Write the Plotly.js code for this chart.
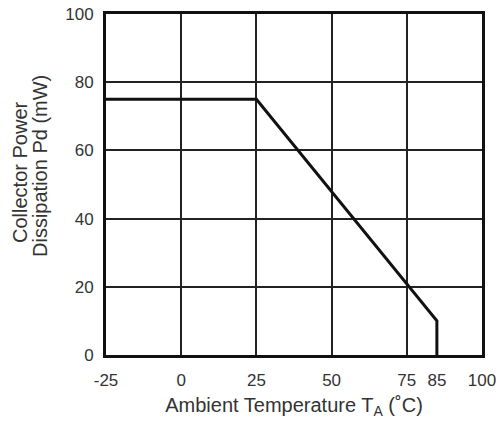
<!DOCTYPE html>
<html><head><meta charset="utf-8">
<script src="https://cdn.plot.ly/plotly-3.0.1.min.js"></script>
<style>html,body{margin:0;padding:0;background:#fff}#chart{width:500px;height:423px}</style>
</head><body><div id="chart"></div>
<script>
// Derating curve data
const tempC = [-25, 25, 85, 85];
const powerMW = [75, 75, 10, 0];
const xTickVals = [-25, 0, 25, 50, 75, 85, 100];
const xTickText = ['-25', '0', '25', '50', '75', '85', '100'];
const yTickVals = [0, 20, 40, 60, 80, 100];
const yTitleLines = ['Collector Power', 'Dissipation Pd (mW)'];

const fam = 'Liberation Sans, Arial, sans-serif';
const tickFont = {family: fam, size: 17, color: '#333'};
const titleFont = {family: fam, size: 20, color: '#333'};
const traces = [
  {x: tempC, y: powerMW, type: 'scatter', mode: 'lines', line: {color: '#111', width: 3}, xaxis: 'x', yaxis: 'y', hoverinfo: 'none'},
  {x: tempC, y: powerMW, type: 'scatter', mode: 'lines', line: {color: 'rgba(0,0,0,0)', width: 0}, xaxis: 'x2', yaxis: 'y', hoverinfo: 'none'}
];
const layout = {
  width: 500, height: 423,
  margin: {l: 106, r: 18, t: 14, b: 68},
  paper_bgcolor: '#fff', plot_bgcolor: '#fff',
  showlegend: false,
  font: tickFont,
  xaxis: {range: [-25, 100], dtick: 25, tick0: -25, showgrid: true, gridcolor: '#222', gridwidth: 2,
          showticklabels: false, ticks: '', zeroline: false, showline: true, linecolor: '#111', linewidth: 3, mirror: true, fixedrange: true},
  xaxis2: {overlaying: 'x', anchor: 'y', side: 'bottom', range: [-25, 100], tickmode: 'array', tickvals: xTickVals, ticktext: xTickText,
           showgrid: false, zeroline: false, ticks: 'outside', ticklen: 10, tickcolor: 'rgba(0,0,0,0)', showline: false, tickfont: tickFont,
           title: {text: 'Ambient Temperature T<sub>A</sub> (˚C)', font: titleFont, standoff: 8}},
  yaxis: {range: [0, 100], tickmode: 'array', tickvals: yTickVals, showgrid: true, gridcolor: '#222', gridwidth: 2,
          zeroline: false, ticks: 'outside', ticklen: 6, tickcolor: 'rgba(0,0,0,0)', showline: true, linecolor: '#111', linewidth: 3, mirror: true, tickfont: tickFont},
  annotations: [
    {text: yTitleLines[0], xref: 'paper', yref: 'paper', x: (20 - 106) / 376, y: (355 - 172) / 341, xanchor: 'center', yanchor: 'middle', textangle: -90, showarrow: false, font: titleFont},
    {text: yTitleLines[1], xref: 'paper', yref: 'paper', x: (40 - 106) / 376, y: (355 - 166) / 341, xanchor: 'center', yanchor: 'middle', textangle: -90, showarrow: false, font: titleFont}
  ]
};
Plotly.newPlot('chart', traces, layout, {staticPlot: true, displayModeBar: false});
</script></body></html>
